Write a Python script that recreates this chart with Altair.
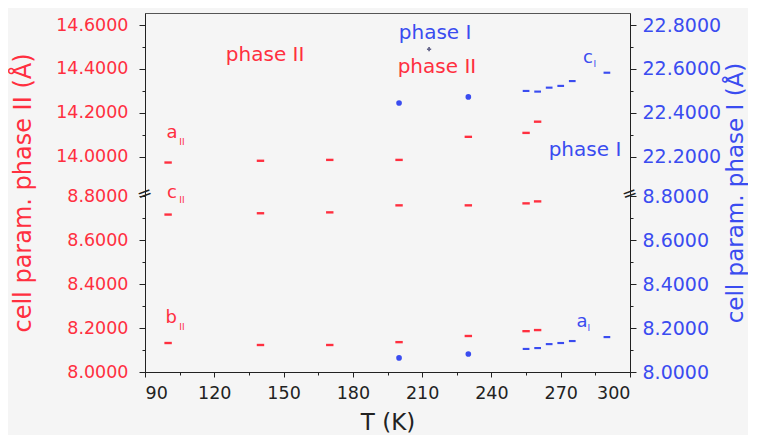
import altair as alt
import pandas as pd

# ---------------- data ----------------
T_II = [100, 140, 170, 200, 230, 255, 260]
a_II = [13.974, 13.982, 13.986, 13.986, 14.091, 14.109, 14.160]
b_II = [8.132, 8.123, 8.123, 8.136, 8.164, 8.186, 8.191]
c_II = [8.717, 8.723, 8.727, 8.759, 8.759, 8.768, 8.777]

T_I = [200, 230, 255, 260, 265, 270, 275, 290]
a_I = [8.064, 8.082, 8.105, 8.109, 8.127, 8.132, 8.141, 8.159]
c_I = [22.445, 22.473, 22.500, 22.497, 22.515, 22.523, 22.545, 22.583]

x_major = [90, 120, 150, 180, 210, 240, 270, 300]
x_minor = [105, 135, 165, 195, 225, 255, 285]
left_major = [8.0, 8.2, 8.4, 8.6, 8.8, 14.0, 14.2, 14.4, 14.6]
left_minor = [8.1, 8.3, 8.5, 8.7, 14.1, 14.3, 14.5]
right_major = [8.0, 8.2, 8.4, 8.6, 8.8, 22.2, 22.4, 22.6, 22.8]
right_minor = [8.1, 8.3, 8.5, 8.7, 22.3, 22.5, 22.7]

# annotations (T, value in the units of the axis they belong to)
red_ann_text = ["phase II", "phase II"]
red_ann_T = [142, 216.4]
red_ann_v = [14.464, 14.41]
blue_ann_text = ["phase I", "phase I"]
blue_ann_T = [215.6, 280.5]
blue_ann_v = [14.564, 14.032]

red_sym_text = ["a", "c", "b"]
red_sym_T = [101.7, 101.7, 101.3]
red_sym_v = [14.109, 8.814, 8.245]
red_sub_T = [106.0, 106.0, 106.0]
red_sub_v = [14.068, 8.782, 8.205]
blue_sym_text = ["c", "a"]
blue_sym_T = [281.8, 279.2]
blue_sym_v = [22.65, 8.227]
blue_sub_T = [284.8, 282.2]
blue_sub_v = [22.623, 8.200]

# ---------------- broken axis mapping ----------------
SHIFT_L = 5.02    # 14.0 (left)  -> 8.98
SHIFT_R = 13.22   # 22.2 (right) -> 8.98
DOMAIN = [8.0, 9.635]
CALC = f"datum.v > 20 ? datum.v - {SHIFT_R} : (datum.v > 13 ? datum.v - {SHIFT_L} : datum.v)"


def to_plot(v):
    if v > 20:
        return round(v - SHIFT_R, 4)
    if v > 13:
        return round(v - SHIFT_L, 4)
    return v


RED = "#ff2f3f"
BLUE = "#3a4cf0"
INK = "#222222"
FONT = "DejaVu Sans"

rows = []
for t, a, b, c in zip(T_II, a_II, b_II, c_II):
    rows += [dict(T=t, v=a, phase="II", p="a"), dict(T=t, v=b, phase="II", p="b"),
             dict(T=t, v=c, phase="II", p="c")]
for t, a, c in zip(T_I, a_I, c_I):
    rows += [dict(T=t, v=a, phase="I", p="a"), dict(T=t, v=c, phase="I", p="c")]
pts = pd.DataFrame(rows)

xs = alt.Scale(domain=[90, 300], nice=False, zero=False)
ys = alt.Scale(domain=DOMAIN, nice=False, zero=False)

x_main = alt.X("T:Q", scale=xs, axis=alt.Axis(
    orient="bottom", values=x_major, format="d", title="T (K)", grid=False,
    labelColor=INK, labelFont=FONT, labelFontSize=17.5, labelPadding=7,
    tickSize=5, tickColor=INK, domainColor=INK,
    titleFont=FONT, titleFontSize=23, titleFontWeight="normal", titleColor=INK,
    titlePadding=10))
x_minor_enc = alt.X("T:Q", scale=xs, axis=alt.Axis(
    orient="bottom", values=x_minor, labels=False, domain=False, grid=False,
    tickSize=3, tickColor=INK, title=None))
x_none = alt.X("T:Q", scale=xs, axis=None)

LEXPR = f"datum.value > 8.9 ? format(datum.value + {SHIFT_L}, '.4f') : format(datum.value, '.4f')"
REXPR = f"datum.value > 8.9 ? format(datum.value + {SHIFT_R}, '.4f') : format(datum.value, '.4f')"

y_left = alt.Y("yp:Q", scale=ys, axis=alt.Axis(
    orient="left", values=[to_plot(v) for v in left_major], labelExpr=LEXPR,
    grid=False, labelColor=RED, labelFont=FONT, labelFontSize=17.5, labelPadding=11,
    tickSize=6, tickColor=INK, domainColor=INK,
    title="cell param. phase II (Å)", titleColor=RED, titleFont=FONT,
    titleFontSize=24, titleFontWeight="normal", titlePadding=20))
y_left_minor = alt.Y("yp:Q", scale=ys, axis=alt.Axis(
    orient="left", values=[to_plot(v) for v in left_minor], labels=False,
    domain=False, grid=False, tickSize=3, tickColor=INK, title=None))
y_right = alt.Y("yp:Q", scale=ys, axis=alt.Axis(
    orient="right", values=[to_plot(v) for v in right_major], labelExpr=REXPR,
    grid=False, labelColor=BLUE, labelFont=FONT, labelFontSize=19, labelPadding=6,
    tickSize=6, tickColor=INK, domainColor=INK,
    title="cell param. phase I (Å)", titleColor=BLUE, titleFont=FONT,
    titleFontSize=23, titleFontWeight="normal", titlePadding=4,
    titleAngle=270, titleBaseline="top"))
y_right_minor = alt.Y("yp:Q", scale=ys, axis=alt.Axis(
    orient="right", values=[to_plot(v) for v in right_minor], labels=False,
    domain=False, grid=False, tickSize=3, tickColor=INK, title=None))
y_none = alt.Y("yp:Q", scale=ys, axis=None)

DASH = "M-1,-0.32L1,-0.32L1,0.32L-1,0.32Z"

base = alt.Chart(pts).transform_calculate(yp=CALC)

red_pts = base.transform_filter("datum.phase == 'II'").mark_point(
    shape=DASH, filled=True, size=55, color=RED, opacity=1).encode(x=x_main, y=y_left)
blue_round = base.transform_filter("datum.phase == 'I' && datum.T < 250").mark_point(
    shape="circle", filled=True, size=32, color=BLUE, opacity=1).encode(x=x_none, y=y_right)
blue_dash = base.transform_filter("datum.phase == 'I' && datum.T >= 250").mark_point(
    shape=DASH, filled=True, size=45, color=BLUE, opacity=1).encode(x=x_none, y=y_none)
minor_l = base.mark_point(opacity=0).encode(x=x_minor_enc, y=y_left_minor)
minor_r = base.mark_point(opacity=0).encode(x=x_none, y=y_right_minor)


def text_layer(texts, Ts, vs, color, size):
    df = pd.DataFrame({"txt": texts, "T": Ts, "v": vs})
    return alt.Chart(df).transform_calculate(yp=CALC).mark_text(
        color=color, font=FONT, fontSize=size, align="center", baseline="middle"
    ).encode(x=x_none, y=y_none, text="txt:N")


ann = [
    text_layer(red_ann_text, red_ann_T, red_ann_v, RED, 20),
    text_layer(blue_ann_text, blue_ann_T, blue_ann_v, BLUE, 20),
    text_layer(red_sym_text, red_sym_T, red_sym_v, RED, 18),
    text_layer(["II"] * 3, red_sub_T, red_sub_v, RED, 9),
    text_layer(blue_sym_text, blue_sym_T, blue_sym_v, BLUE, 18),
    text_layer(["I"] * 2, blue_sub_T, blue_sub_v, BLUE, 9),
]

marker = alt.Chart(pd.DataFrame({"T": [213.0], "v": [14.49]})).transform_calculate(
    yp=CALC).mark_point(shape="cross", filled=True, size=18, color="#23235a").encode(
    x=x_none, y=y_none)

brk = alt.Chart(pd.DataFrame({"T": [90, 300], "v": [8.81, 8.81]})).transform_calculate(
    yp=CALC).mark_text(text="=", angle=340, fontSize=18, font=FONT, color=INK,
                       align="center", baseline="middle").encode(x=x_none, y=y_none)

chart = alt.layer(red_pts, blue_round, blue_dash, minor_l, minor_r, marker, brk, *ann).resolve_axis(
    x="independent", y="independent"
).properties(
    width=485, height=359, background="#f5f5f5",
    padding={"left": 3, "top": 5, "right": 0, "bottom": 0},
).configure_view(stroke="#555555", strokeWidth=1)

chart.save("out.html", embed_options={"renderer": "svg", "actions": False})
